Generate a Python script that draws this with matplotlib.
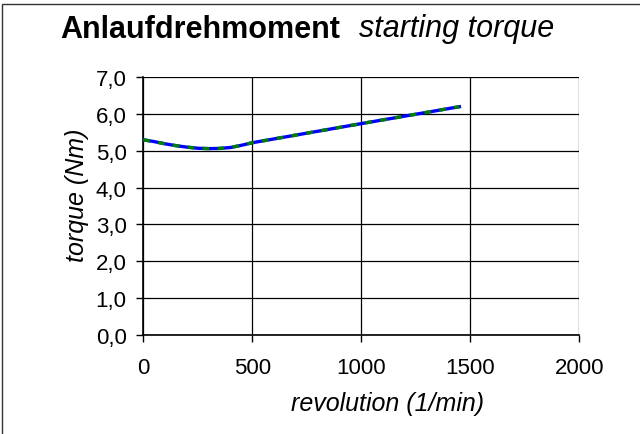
import matplotlib.pyplot as plt
from matplotlib.patches import Rectangle
from matplotlib.ticker import FuncFormatter

plt.rcParams['font.family'] = ['Liberation Sans', 'DejaVu Sans']

rpm = [0, 50, 100, 150, 200, 250, 300, 350, 400, 450, 500, 1000, 1450]
torque = [5.30, 5.25, 5.19, 5.14, 5.10, 5.07, 5.06, 5.065, 5.09, 5.15, 5.22, 5.74, 6.20]
xticks = [0, 500, 1000, 1500, 2000]
yticks = [0, 1, 2, 3, 4, 5, 6, 7]

fig = plt.figure(figsize=(6.4, 4.35), dpi=100)
ax = fig.add_axes([143.3 / 640, 1 - 335.6 / 435, (579.3 - 143.3) / 640, (335.6 - 78.3) / 435])

# outer frame (only left and top visible in the original)
fig.patches.append(Rectangle((1.5 / 640, -0.1), 1.2, 1.1 - 5 / 435, transform=fig.transFigure,
                             fill=False, edgecolor='#333333', linewidth=1.0))

ax.plot(rpm, torque, color='#0000ff', linewidth=2.4, zorder=3)
ax.plot(rpm, torque, color='#008000', linewidth=2.4, dashes=(2, 2.5), zorder=4)

ax.set_xlim(0, 2000)
ax.set_ylim(0, 7)
ax.set_xticks(xticks)
ax.set_yticks(yticks)
ax.yaxis.set_major_formatter(FuncFormatter(lambda v, p: f'{v:.1f}'.replace('.', ',')))
ax.grid(True, color='black', linewidth=0.9)
for s in ['top', 'right']:
    ax.spines[s].set_visible(False)
ax.spines['left'].set_linewidth(1.2)
ax.spines['bottom'].set_linewidth(1.2)
ax.tick_params(direction='out', length=5, width=1, labelsize=16)
ax.tick_params(axis='y', pad=7)
ax.tick_params(axis='x', pad=11)

fig.text(200.5 / 640, 1 - 37.5 / 435, 'Anlaufdrehmoment', fontsize=22, fontweight='bold', ha='center', va='baseline')
fig.text(457 / 640, 1 - 37.5 / 435, 'starting torque', fontsize=22, style='italic', ha='center', va='baseline')
fig.text(77 / 640, 1 - 195.5 / 435, 'torque (Nm)', fontsize=18, style='italic', rotation=90, ha='center', va='center')
fig.text(388 / 640, 1 - 404 / 435, 'revolution (1/min)', fontsize=18, style='italic', ha='center', va='center')

fig.savefig('out.png', dpi=100)
